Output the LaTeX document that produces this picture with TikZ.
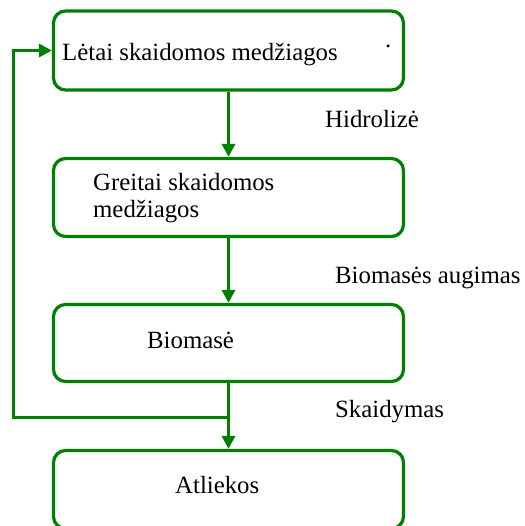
\documentclass[tikz,border=0pt]{standalone}
\usepackage{fontspec}
\setmainfont{Liberation Serif}
\usetikzlibrary{arrows.meta}
\definecolor{fgreen}{RGB}{0,128,0}
\begin{document}
\begin{tikzpicture}[x=1pt,y=-1pt,
  box/.style={draw=fgreen,line width=3.2pt,rounded corners=12pt,minimum width=350pt,inner sep=0pt},
  txt/.style={anchor=base west,inner sep=0pt,font=\fontsize{24.8}{27.5}\selectfont,align=left},
  conn/.style={draw=fgreen,line width=3.2pt,-{Triangle[width=13pt,length=13pt]}}]
\useasboundingbox (0,0) rectangle (524,526);
\begin{scope}
\clip (0,0) rectangle (524,526);
\node[box,minimum height=79pt] (b1) at (228.5,50.5) {};
\node[box,minimum height=78pt] (b2) at (228.5,197.5) {};
\node[box,minimum height=77pt] (b3) at (228.5,343) {};
\node[box,minimum height=78pt] (b4) at (228.5,489.5) {};
\end{scope}
\node[txt] (t1) at (62,61) {Lėtai skaidomos medžiagos};
\node[txt] (t2) at (93,218) {Greitai skaidomos\\medžiagos};
\node[txt] (t3) at (147,348) {Biomasė};
\node[txt] (t4) at (175,493) {Atliekos};
\node[txt] (dot) at (385,48) {.};
\node[txt] (l1) at (325,128) {Hidrolizė};
\node[txt] (l2) at (335,283) {Biomasės augimas};
\node[txt] (l3) at (335,417) {Skaidymas};
\draw[conn] (b1.south) -- (b2.north);
\draw[conn] (b2.south) -- (b3.north);
\draw[conn] (b3.south) -- (b4.north);
\coordinate (j) at (228.5,417.5);
\coordinate (c) at (13.5,417.5);
\draw[conn] (j) -- (c) |- (b1.west);
\end{tikzpicture}
\end{document}
